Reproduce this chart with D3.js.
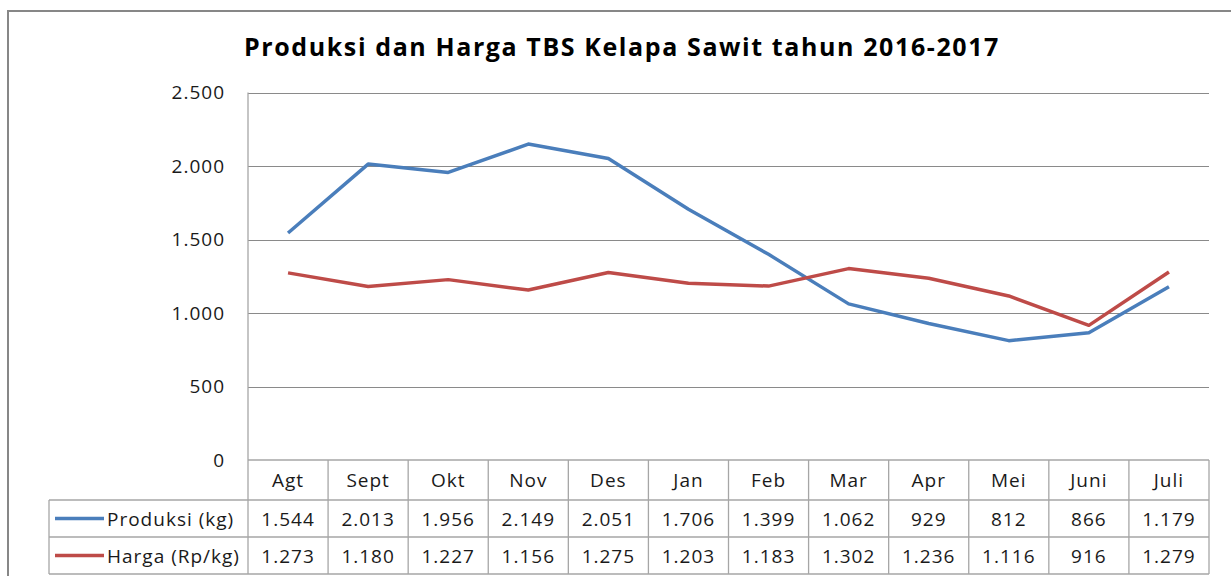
<!DOCTYPE html>
<html>
<head>
<meta charset="utf-8">
<script src="https://cdn.jsdelivr.net/npm/d3@7"></script>
<style>
  body { margin: 0; background: #fff; }
  svg { font-family: "Open Sans", sans-serif; }
  svg text { letter-spacing: 1px; }
</style>
</head>
<body>
<div id="viz"></div>
<script>
var months = ['Agt', 'Sept', 'Okt', 'Nov', 'Des', 'Jan', 'Feb', 'Mar', 'Apr', 'Mei', 'Juni', 'Juli'];
var produksi = [1544, 2013, 1956, 2149, 2051, 1706, 1399, 1062, 929, 812, 866, 1179];
var harga = [1273, 1180, 1227, 1156, 1275, 1203, 1183, 1302, 1236, 1116, 916, 1279];
var seriesNames = ['Produksi (kg)', 'Harga (Rp/kg)'];
var yTicks = [0, 500, 1000, 1500, 2000, 2500];

var width = 1231, height = 576;
var margin = {top: 92.5, right: 22, bottom: 116, left: 248};
var rowH = 37, headH = 40;
var colors = ['#4a7ebb', '#be4b48'];

var locale = d3.formatLocale({decimal: ',', thousands: '.', grouping: [3], currency: ['', '']});
var fmt = locale.format(',d');

var svg = d3.select('#viz').append('svg')
  .attr('width', width)
  .attr('height', height);

// outer chart border
svg.append('rect')
  .attr('x', 8).attr('y', 11)
  .attr('width', 1240).attr('height', 600)
  .attr('fill', 'none')
  .attr('stroke', '#878787')
  .attr('stroke-width', 2);

svg.append('text')
  .attr('x', 622).attr('y', 56)
  .attr('text-anchor', 'middle')
  .attr('font-weight', 'bold')
  .attr('font-size', 25)
  .attr('fill', '#000')
  .style('letter-spacing', '1.6px')
  .text('Produksi dan Harga TBS Kelapa Sawit tahun 2016-2017');

var x = d3.scaleBand()
  .domain(months)
  .range([margin.left, width - margin.right]);

var y = d3.scaleLinear()
  .domain([0, 2500])
  .range([height - margin.bottom, margin.top]);

var y0 = y(0);

// gridlines
svg.append('g')
  .selectAll('line')
  .data(yTicks.slice(1))
  .join('line')
  .attr('x1', margin.left).attr('x2', width - margin.right)
  .attr('y1', d => Math.round(y(d)) + 0.5).attr('y2', d => Math.round(y(d)) + 0.5)
  .attr('stroke', '#8a8a8a')
  .attr('stroke-width', 1);

// y axis
var yAxis = svg.append('g')
  .attr('transform', 'translate(' + margin.left + ',0)')
  .call(d3.axisLeft(y).tickValues(yTicks).tickFormat(fmt).tickSize(0).tickPadding(23));
yAxis.select('.domain').remove();
yAxis.selectAll('text')
  .attr('font-family', '"Open Sans", sans-serif')
  .attr('font-size', 19)
  .attr('fill', '#1a1a1a');

// lines
var line = d3.line()
  .x((d, i) => x(months[i]) + x.bandwidth() / 2)
  .y(d => y(d));

[produksi, harga].forEach(function(s, k) {
  svg.append('path')
    .datum(s)
    .attr('fill', 'none')
    .attr('stroke', colors[k])
    .attr('stroke-width', 3.5)
    .attr('stroke-linejoin', 'round')
    .attr('d', line);
});

// data table
var table = svg.append('g').attr('stroke', '#a6a6a6').attr('stroke-width', 1.3);
var tLeft = 49, tRight = width - margin.right;
var rowY = [y0, y0 + headH, y0 + headH + rowH, y0 + headH + 2 * rowH];

table.append('line').attr('x1', margin.left).attr('x2', tRight).attr('y1', rowY[0]).attr('y2', rowY[0]);
[1, 2, 3].forEach(function(r) {
  table.append('line').attr('x1', tLeft).attr('x2', tRight).attr('y1', rowY[r]).attr('y2', rowY[r]);
});
// left plot edge
table.append('line').attr('x1', margin.left).attr('x2', margin.left).attr('y1', margin.top).attr('y2', rowY[3]);
table.append('line').attr('x1', tLeft).attr('x2', tLeft).attr('y1', rowY[1]).attr('y2', rowY[3]);
table.selectAll('line.col')
  .data(months)
  .join('line')
  .attr('class', 'col')
  .attr('x1', d => x(d) + x.bandwidth()).attr('x2', d => x(d) + x.bandwidth())
  .attr('y1', rowY[0]).attr('y2', rowY[3]);

svg.append('g')
  .selectAll('text')
  .data(months)
  .join('text')
  .attr('x', d => x(d) + x.bandwidth() / 2)
  .attr('y', (rowY[0] + rowY[1]) / 2 + 7)
  .attr('text-anchor', 'middle')
  .attr('font-size', 19)
  .attr('fill', '#1a1a1a')
  .text(d => d);

[produksi, harga].forEach(function(s, k) {
  var cy = (rowY[k + 1] + rowY[k + 2]) / 2;
  svg.append('line')
    .attr('x1', 55).attr('x2', 104)
    .attr('y1', cy).attr('y2', cy)
    .attr('stroke', colors[k])
    .attr('stroke-width', 3.5);
  svg.append('text')
    .attr('x', 107).attr('y', cy + 7)
    .attr('font-size', 19)
    .attr('fill', '#1a1a1a')
    .text(seriesNames[k]);
  svg.append('g')
    .selectAll('text')
    .data(s)
    .join('text')
    .attr('x', (d, i) => x(months[i]) + x.bandwidth() / 2)
    .attr('y', cy + 7)
    .attr('text-anchor', 'middle')
    .attr('font-size', 19)
    .attr('fill', '#1a1a1a')
    .text(d => fmt(d));
});
</script>
</body>
</html>
